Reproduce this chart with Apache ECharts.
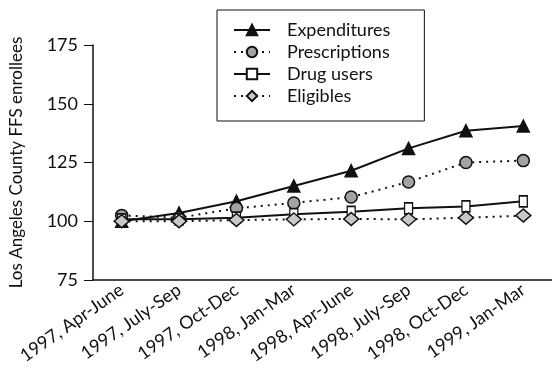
<!DOCTYPE html>
<html>
<head>
<meta charset="utf-8">
<script src="https://cdn.jsdelivr.net/npm/echarts@6/dist/echarts.min.js"></script>
<style>html,body{margin:0;padding:0;background:#fff}#chart{width:552px;height:384px}</style>
</head>
<body>
<div id="chart"></div>
<script>
var quarters = ['1997, Apr-June','1997, July-Sep','1997, Oct-Dec','1998, Jan-Mar','1998, Apr-June','1998, July-Sep','1998, Oct-Dec','1999, Jan-Mar']
var expenditures = [100, 103.5, 108.5, 115, 121.5, 131, 138.5, 140.5]
var prescriptions = [102.5, 101.5, 105.5, 107.8, 110.3, 116.7, 125, 125.8]
var drugUsers = [100.8, 100.8, 101.5, 103, 104, 105.5, 106.3, 108.5]
var eligibles = [100, 100, 100.5, 100.8, 101, 100.8, 101.5, 102.4]
var yTicks = [75, 100, 125, 150, 175]

var font = 'Lato'
var ec = echarts.init(document.getElementById('chart'))
function line(name, data, symbol, size, fill, dotted){
  return {
    name:name, type:'line', data:data, symbol:symbol, symbolSize:size,
    itemStyle:{color:fill, borderColor:'#111', borderWidth:1.5},
    lineStyle:{color:'#111', width:2, type:dotted?[2,5]:'solid'},
    emphasis:{disabled:true}
  }
}
ec.setOption({
  animation:false,
  textStyle:{fontFamily:font},
  grid:{left:90, right:-5, top:45, bottom:104},
  legend:{
    orient:'vertical', left:217, top:10,
    padding:[11, 34, 16, 16], itemGap:4, itemWidth:36, itemHeight:13,
    borderColor:'#111', borderWidth:1, backgroundColor:'#fff',
    textStyle:{fontFamily:font, fontSize:18, color:'#111', padding:[0,0,0,12]},
    data:['Expenditures','Prescriptions','Drug users','Eligibles']
  },
  xAxis:{
    type:'category', data:quarters, boundaryGap:true,
    axisLine:{lineStyle:{color:'#111', width:1.5}},
    axisTick:{show:false},
    axisLabel:{rotate:35, fontSize:18, color:'#111', margin:8, interval:0}
  },
  yAxis:{
    type:'value', min:yTicks[0], max:yTicks[yTicks.length-1], interval:25,
    name:'Los Angeles County FFS enrollees', nameLocation:'middle', nameGap:68,
    nameTextStyle:{fontSize:17, color:'#111', fontFamily:font},
    axisLine:{show:true, lineStyle:{color:'#111', width:1.5}},
    axisTick:{show:true, length:9, lineStyle:{color:'#111'}},
    axisLabel:{fontSize:18, color:'#111', margin:15},
    splitLine:{show:false}
  },
  series:[
    line('Expenditures', expenditures, 'triangle', 12, '#111', false),
    line('Prescriptions', prescriptions, 'circle', 12, '#a3a3a3', true),
    line('Drug users', drugUsers, 'rect', [8,11], '#fff', false),
    line('Eligibles', eligibles, 'diamond', [15,13], '#c8c8c8', true)
  ]
})
</script>
</body>
</html>
